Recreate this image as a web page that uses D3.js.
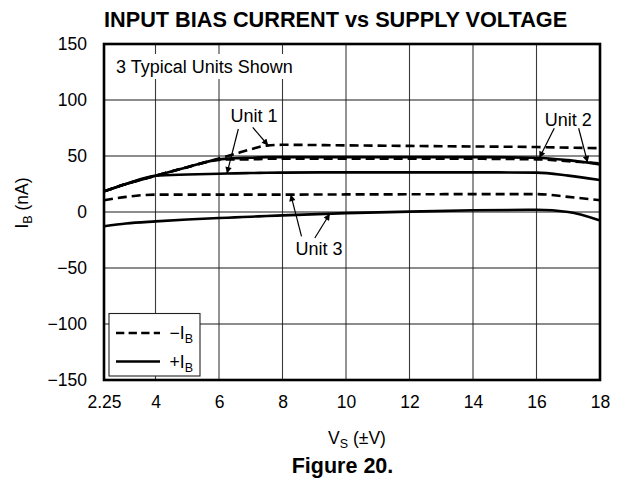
<!DOCTYPE html>
<html>
<head>
<meta charset="utf-8">
<script src="https://cdn.jsdelivr.net/npm/d3@7"></script>
<style>
  html, body { margin: 0; padding: 0; background: #fff; }
  svg { display: block; font-family: "Liberation Sans", Arial, Helvetica, sans-serif; }
</style>
</head>
<body>
<svg id="chart" width="621" height="485"></svg>
<script>
// ---------------- data ----------------
const supplyVoltage = [2.25, 3, 4, 5, 6, 6.5, 7, 7.5, 8, 10, 12, 14, 16, 17, 18];
const unit1Neg = [18.4, 25, 32.4, 40, 47.8, 51.8, 56, 59.3, 60, 59.5, 59, 58.5, 58, 57.5, 57];
const unit1Pos = [18.4, 25, 32.4, 33.5, 34.2, 34.5, 34.8, 35, 35.2, 35.4, 35.4, 35.4, 35.2, 32.5, 28.5];
const unit2Neg = [18.4, 25, 32.4, 40, 46.5, 47, 47, 47.5, 47.5, 47.5, 47.5, 47.5, 47, 45.3, 43.5];
const unit2Pos = [18.4, 25, 32.4, 40, 47, 48, 48.5, 49, 49, 49, 49, 49, 48.5, 46.3, 42.5];
const unit3Neg = [10.4, 13.5, 15.5, 15.5, 15.5, 15.5, 15.5, 15.5, 15.5, 15.7, 15.8, 16, 16, 13.5, 10.5];
const unit3Pos = [-12.8, -10.3, -8.4, -6.7, -5.4, -4.8, -4.2, -3.6, -3, -1, 0.3, 1.5, 2, 0, -7.5];

const xTicks = [2.25, 4, 6, 8, 10, 12, 14, 16, 18];
const yTicks = [-150, -100, -50, 0, 50, 100, 150];

const series = [
  { key: "u1neg", values: unit1Neg, dashed: true },
  { key: "u1pos", values: unit1Pos, dashed: false },
  { key: "u2neg", values: unit2Neg, dashed: true },
  { key: "u2pos", values: unit2Pos, dashed: false },
  { key: "u3neg", values: unit3Neg, dashed: true },
  { key: "u3pos", values: unit3Pos, dashed: false }
];

// annotation labels (data coords) and arrow targets (series key + voltage)
const notes = [
  { label: "Unit 1", v: 7.1, i: 80, arrows: [
      { key: "u1pos", at: 6.25, dx: -15.6, dy: 6.6 },
      { key: "u1neg", at: 7.55, dx: -1.2, dy: 5 } ] },
  { label: "Unit 2", v: 17.0, i: 77, arrows: [
      { key: "u2pos", at: 16.09, dx: -14, dy: 2.5 },
      { key: "u2neg", at: 17.61, dx: 10.4, dy: 2.5 } ] },
  { label: "Unit 3", v: 9.15, i: -38.1, arrows: [
      { key: "u3neg", at: 8.26, dx: -17.5, dy: -18.3 },
      { key: "u3pos", at: 9.49, dx: -4.2, dy: -16.7 } ] }
];

// ---------------- layout ----------------
const pL = 104, pR = 600, pT = 44, pB = 380;
const x = d3.scaleLinear().domain([2.25, 4, 18]).range([pL, 155.5, pR]);
const y = d3.scaleLinear().domain([-150, 150]).range([pB, pT]);

const svg = d3.select("#chart");

const defs = svg.append("defs");
defs.append("marker")
  .attr("id", "arrow").attr("viewBox", "0 0 10 10")
  .attr("refX", 10).attr("refY", 5)
  .attr("markerWidth", 10).attr("markerHeight", 6.5)
  .attr("markerUnits", "userSpaceOnUse")
  .attr("orient", "auto")
  .append("path").attr("d", "M0,0 L10,5 L0,10 Z").attr("fill", "#000");

// title
svg.append("text")
  .attr("x", pL).attr("y", 27)
  .attr("font-size", 21.7).attr("font-weight", "bold")
  .text("INPUT BIAS CURRENT vs SUPPLY VOLTAGE");

// gridlines
const grid = svg.append("g");
grid.selectAll("line.v").data(xTicks.slice(1, -1)).join("line")
  .attr("x1", d => x(d)).attr("x2", d => x(d))
  .attr("y1", pT).attr("y2", pB)
  .attr("stroke", "#3a3a3a").attr("stroke-width", 1.1);
grid.selectAll("line.h").data(yTicks.slice(1, -1)).join("line")
  .attr("x1", pL).attr("x2", pR)
  .attr("y1", d => y(d)).attr("y2", d => y(d))
  .attr("stroke", "#1a1a1a").attr("stroke-width", 1.1);

// axes (tick labels only)
const xAxis = d3.axisBottom(x).tickValues(xTicks).tickSize(0).tickPadding(0)
  .tickFormat(d => d === 2.25 ? "2.25" : d3.format("d")(d));
const gx = svg.append("g").attr("transform", `translate(0,${pB + 16})`).call(xAxis);
gx.select(".domain").remove();
gx.selectAll("text").attr("font-size", 17.5).attr("font-family", null).attr("fill", "#000").attr("dy", "0.71em");

const yAxis = d3.axisLeft(y).tickValues(yTicks).tickSize(0).tickPadding(0)
  .tickFormat(d => d < 0 ? "\u2212" + Math.abs(d) : String(d));
const gy = svg.append("g").attr("transform", `translate(${pL - 17},0)`).call(yAxis);
gy.select(".domain").remove();
gy.selectAll("text").attr("font-size", 17.5).attr("font-family", null).attr("fill", "#000");

// "3 Typical Units Shown" box
svg.append("rect").attr("x", pL + 3).attr("y", 54).attr("width", 194).attr("height", 25).attr("fill", "#fff");
svg.append("text").attr("x", 116).attr("y", 72.5).attr("font-size", 18).text("3 Typical Units Shown");

// curves
const line = d3.line().x((d, i) => x(supplyVoltage[i])).y(d => y(d)).curve(d3.curveMonotoneX);
svg.append("g").selectAll("path").data(series).join("path")
  .attr("d", s => line(s.values))
  .attr("fill", "none").attr("stroke", "#000").attr("stroke-width", 2.6)
  .attr("stroke-dasharray", s => s.dashed ? "9,5" : null);

// annotations
function valueAt(key, v) {
  const vals = series.find(s => s.key === key).values;
  const interp = d3.scaleLinear().domain(supplyVoltage).range(vals);
  return interp(v);
}
const ann = svg.append("g");
notes.forEach(n => {
  const lx = x(n.v), ly = y(n.i);
  ann.append("text").attr("x", lx).attr("y", ly).attr("text-anchor", "middle")
    .attr("font-size", 18).text(n.label);
  n.arrows.forEach(a => {
    ann.append("line")
      .attr("x1", lx + a.dx).attr("y1", ly + a.dy)
      .attr("x2", x(a.at)).attr("y2", y(valueAt(a.key, a.at)))
      .attr("stroke", "#000").attr("stroke-width", 1.2)
      .attr("marker-end", "url(#arrow)");
  });
});

// legend
const lg = svg.append("g");
lg.append("rect").attr("x", 109).attr("y", 313.5).attr("width", 91).attr("height", 62.5)
  .attr("fill", "#fff").attr("stroke", "#222").attr("stroke-width", 1.1);
lg.append("line").attr("x1", 116).attr("x2", 160).attr("y1", 333).attr("y2", 333)
  .attr("stroke", "#000").attr("stroke-width", 2.6).attr("stroke-dasharray", "8.3,4.3");
lg.append("line").attr("x1", 116).attr("x2", 160).attr("y1", 361.5).attr("y2", 361.5)
  .attr("stroke", "#000").attr("stroke-width", 2.6);
const legendLabels = [{ sign: "\u2212", yy: 339 }, { sign: "+", yy: 367.5 }];
legendLabels.forEach(l => {
  const t = lg.append("text").attr("x", 193).attr("y", l.yy).attr("text-anchor", "end").attr("font-size", 17.5);
  t.append("tspan").text(l.sign + "I");
  t.append("tspan").attr("font-size", 12.5).attr("dy", 4).text("B");
});

// frame
svg.append("rect").attr("x", pL).attr("y", pT).attr("width", pR - pL).attr("height", pB - pT)
  .attr("fill", "none").attr("stroke", "#000").attr("stroke-width", 2.6);

// axis titles
const yl = svg.append("text").attr("transform", "translate(28,203) rotate(-90)")
  .attr("text-anchor", "middle").attr("font-size", 17.5);
yl.append("tspan").text("I");
yl.append("tspan").attr("font-size", 12.5).attr("dy", 4).text("B");
yl.append("tspan").attr("dy", -4).text(" (nA)");

const xl = svg.append("text").attr("x", 357).attr("y", 444)
  .attr("text-anchor", "middle").attr("font-size", 17.5);
xl.append("tspan").text("V");
xl.append("tspan").attr("font-size", 12.5).attr("dy", 4).text("S");
xl.append("tspan").attr("dy", -4).text(" (\u00B1V)");

svg.append("text").attr("x", 342.5).attr("y", 473).attr("text-anchor", "middle")
  .attr("font-size", 21.5).attr("font-weight", "bold").text("Figure 20.");
</script>
</body>
</html>
